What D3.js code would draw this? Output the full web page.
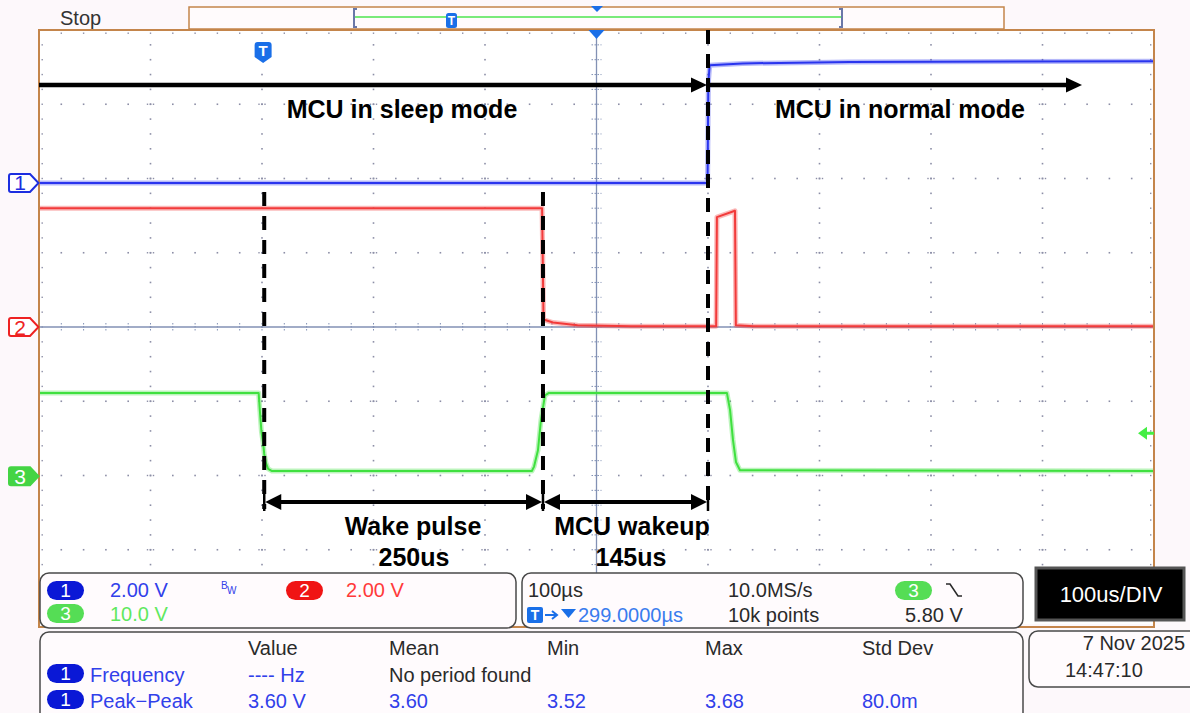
<!DOCTYPE html>
<html>
<head>
<meta charset="utf-8">
<script src="https://cdn.jsdelivr.net/npm/d3@7"></script>
<style>
html,body{margin:0;padding:0;background:#fdf8fb;}
svg{display:block;}
text{font-family:"Liberation Sans",Arial,sans-serif;}
</style>
</head>
<body>
<svg id="c" width="1190" height="713"></svg>
<script>
// ---------------- DATA ----------------
const timeDomain = [-201, 799];            // µs relative to trigger (10 div x 100 µs)
const divDomain = [-4, 4];                 // vertical divisions

// channel: vertical position (div) and scale (V/div)
const ch1Pos = 1.94, ch1Scale = 2.0;
const ch2Pos = 0.0, ch2Scale = 2.0;
const ch3Pos = -2.01, ch3Scale = 10.0;

const ch1Time = [-201, 398.6, 399.3, 400.5, 430, 526, 799];
const ch1Volt = [0.0, 0.0, 2.7, 3.17, 3.22, 3.26, 3.28];

const ch2Time = [-201, 250.2, 251.5, 260, 282, 330, 406.3, 407, 423.2, 424, 440, 799];
const ch2Volt = [3.2, 3.2, 0.2, 0.12, 0.05, 0.02, 0.02, 2.96, 3.13, 0.05, 0.02, 0.02];

const ch3Time = [-201, -4, -3, -1.5, 0, 1, 2.5, 4.5, 8, 241, 243, 246.5, 249.2, 252.8, 256, 416, 418.8, 421.4, 424.1, 427.7, 799];
const ch3Volt = [11.2, 11.2, 9, 6, 4.5, 3, 1.8, 1, 0.7, 0.7, 1.3, 3.5, 7.6, 10.9, 11.2, 11.2, 8.9, 4.9, 1.9, 0.8, 0.7];

const trigLevel = 5.80;                    // V on ch3
const markerTimes = [1, 251, 399];         // dashed cursor lines (µs)
const phaseLabels = ["MCU in sleep mode", "MCU in normal mode"];
const spanLabels = [["Wake pulse", "250us"], ["MCU wakeup", "145us"]];

const chanSettings = ["2.00 V", "2.00 V", "10.0 V"];
const timeSettings = ["100µs", "299.0000µs", "10.0MS/s", "10k points", "5.80 V"];
const measHeaders = ["Value", "Mean", "Min", "Max", "Std Dev"];
const measNames = ["Frequency", "Peak\u2212Peak"];
const measRow1 = ["---- Hz", "No period found", "", "", ""];
const measRow2 = ["3.60 V", "3.60", "3.52", "3.68", "80.0m"];
const dateLabels = ["7 Nov 2025", "14:47:10"];
const divLabel = "100us/DIV";

// ---------------- SCALES ----------------
const L = 39, R = 1154, T = 30, B = 624;
const x = d3.scaleLinear().domain(timeDomain).range([L, R]);
const xDiv = d3.scaleLinear().domain([0, 10]).range([L, R]);
const yDiv = d3.scaleLinear().domain(divDomain).range([B, T]);
const svg = d3.select("#c");

// plot area background
svg.append("rect").attr("x", L).attr("y", T).attr("width", R - L).attr("height", B - T).attr("fill", "#ffffff");

// ---------------- GRID ----------------
const g = svg.append("g");
const dotC = "#8c8ea6";
const minorX = d3.range(1, 50).map(i => i / 5);
const minorY = d3.range(-19, 20).map(i => i / 5);
[1,2,3,4,6,7,8,9].forEach(k => {
  minorY.forEach(v => {
    g.append("rect").attr("x", xDiv(k) - 0.8).attr("y", yDiv(v) - 0.8).attr("width", 1.6).attr("height", 1.6).attr("fill", dotC);
  });
  [-3,-2,-1,1,2,3].forEach(v => {
    [-3, 3].forEach(dx => g.append("rect").attr("x", xDiv(k) + dx - 0.7).attr("y", yDiv(v) - 0.7).attr("width", 1.4).attr("height", 1.4).attr("fill", dotC));
  });
});
[-3,-2,-1,1,2,3].forEach(v => {
  minorX.forEach(k => {
    g.append("rect").attr("x", xDiv(k) - 0.8).attr("y", yDiv(v) - 0.8).attr("width", 1.6).attr("height", 1.6).attr("fill", dotC);
  });
});
minorX.forEach(k => {
  g.append("rect").attr("x", xDiv(k) - 0.7).attr("y", T + 2.5).attr("width", 1.4).attr("height", 1.4).attr("fill", dotC);
});
minorY.forEach(v => {
  g.append("rect").attr("x", L + 2.5).attr("y", yDiv(v) - 0.7).attr("width", 1.4).attr("height", 1.4).attr("fill", dotC);
  g.append("rect").attr("x", R - 4).attr("y", yDiv(v) - 0.7).attr("width", 1.4).attr("height", 1.4).attr("fill", dotC);
});
const cc = "#8291b4";
g.append("line").attr("x1", xDiv(5)).attr("x2", xDiv(5)).attr("y1", T).attr("y2", B).attr("stroke", cc).attr("stroke-width", 1.3);
g.append("line").attr("x1", L).attr("x2", R).attr("y1", yDiv(0)).attr("y2", yDiv(0)).attr("stroke", cc).attr("stroke-width", 1.3);
minorX.forEach(k => {
  g.append("line").attr("x1", xDiv(k)).attr("x2", xDiv(k)).attr("y1", yDiv(0) - 4).attr("y2", yDiv(0) + 4)
    .attr("stroke", cc).attr("stroke-width", 1).attr("stroke-dasharray", "1.5,1.5");
});
minorY.forEach(v => {
  g.append("line").attr("x1", xDiv(5) - 5).attr("x2", xDiv(5) + 5).attr("y1", yDiv(v)).attr("y2", yDiv(v))
    .attr("stroke", cc).attr("stroke-width", 1).attr("stroke-dasharray", "1.5,1.5");
});

// ---------------- TRACES ----------------
function drawTrace(times, volts, pos, scale, color) {
  const pts = times.map((t, i) => [x(t), yDiv(pos + volts[i] / scale)]);
  const line = d3.line();
  svg.append("path").attr("d", line(pts)).attr("fill", "none").attr("stroke", color)
    .attr("stroke-width", 5).attr("stroke-opacity", 0.35).attr("stroke-linejoin", "round");
  svg.append("path").attr("d", line(pts)).attr("fill", "none").attr("stroke", color)
    .attr("stroke-width", 2).attr("stroke-linejoin", "round");
}
drawTrace(ch3Time, ch3Volt, ch3Pos, ch3Scale, "#3fe03f");
drawTrace(ch2Time, ch2Volt, ch2Pos, ch2Scale, "#f23a3a");
drawTrace(ch1Time, ch1Volt, ch1Pos, ch1Scale, "#2a35ee");

svg.append("rect").attr("x", L).attr("y", T).attr("width", R - L).attr("height", B - T + 3)
  .attr("fill", "none").attr("stroke", "#c4854b").attr("stroke-width", 2);

// ---------------- ANNOTATIONS ----------------
const ann = svg.append("g");
const mx = markerTimes.map(t => x(t));
[[mx[0], 192], [mx[1], 192], [mx[2], 30]].forEach(([xx, y0]) => {
  ann.append("line").attr("x1", xx).attr("x2", xx).attr("y1", y0).attr("y2", 509)
    .attr("stroke", "#000").attr("stroke-width", 4).attr("stroke-dasharray", "14,10");
});
function arrowHead(tipX, y, dir, len, hw) {
  ann.append("path").attr("d", `M${tipX},${y} L${tipX - dir * len},${y - hw} L${tipX - dir * len},${y + hw} Z`).attr("fill", "#000");
}
const yTop = 85;
ann.append("line").attr("x1", L).attr("x2", mx[2] - 12).attr("y1", yTop).attr("y2", yTop).attr("stroke", "#000").attr("stroke-width", 4.5);
arrowHead(mx[2] - 1, yTop, 1, 16, 7.5);
ann.append("line").attr("x1", mx[2]).attr("x2", 1068).attr("y1", yTop).attr("y2", yTop).attr("stroke", "#000").attr("stroke-width", 4.5);
arrowHead(1082, yTop, 1, 16, 7.5);
const yBot = 502;
[[mx[0], mx[1]], [mx[1], mx[2]]].forEach(([a, b]) => {
  ann.append("line").attr("x1", a + 10).attr("x2", b - 10).attr("y1", yBot).attr("y2", yBot).attr("stroke", "#000").attr("stroke-width", 4);
  arrowHead(a + 1, yBot, -1, 16, 8);
  arrowHead(b - 1, yBot, 1, 16, 8);
});
mx.forEach(xx => ann.append("line").attr("x1", xx).attr("x2", xx).attr("y1", 491).attr("y2", 511).attr("stroke", "#000").attr("stroke-width", 2.5));

const bold = s => s.attr("font-weight", "bold").attr("font-size", 25).attr("fill", "#000").attr("text-anchor", "middle");
bold(ann.append("text").attr("x", 402).attr("y", 118).text(phaseLabels[0]));
bold(ann.append("text").attr("x", 900).attr("y", 118).text(phaseLabels[1]));
bold(ann.append("text").attr("x", 413).attr("y", 535).text(spanLabels[0][0]));
bold(ann.append("text").attr("x", 414).attr("y", 566).text(spanLabels[0][1]));
bold(ann.append("text").attr("x", 632).attr("y", 535).text(spanLabels[1][0]));
bold(ann.append("text").attr("x", 631).attr("y", 566).text(spanLabels[1][1]));

// ---------------- MARKERS ----------------
const blueM = "#1a6fe8";
function chanMarker(pos, color, label, filled) {
  const yy = yDiv(pos);
  svg.append("path").attr("d", `M11,${yy - 9} H30 L38.5,${yy} L30,${yy + 9} H11 Q9,${yy + 9} 9,${yy + 7} V${yy - 7} Q9,${yy - 9} 11,${yy - 9} Z`)
    .attr("fill", filled ? color : "#fff").attr("stroke", color).attr("stroke-width", 2);
  svg.append("text").attr("x", 20).attr("y", yy + 7.5).attr("text-anchor", "middle").attr("font-size", 21)
    .attr("fill", filled ? "#fff" : color).text(label);
}
chanMarker(ch1Pos, "#1c2ee0", "1", false);
chanMarker(ch2Pos, "#ee2222", "2", false);
chanMarker(ch3Pos, "#44d444", "3", true);

const ty = yDiv(ch3Pos + trigLevel / ch3Scale);
svg.append("path").attr("d", `M1138,${ty} L1147,${ty - 6.5} L1147,${ty - 1.5} L1154,${ty - 1.5} L1154,${ty + 1.5} L1147,${ty + 1.5} L1147,${ty + 6.5} Z`).attr("fill", "#44ee44");

function tMarker(cx, y0, w, h, fs) {
  svg.append("path").attr("d", `M${cx - w / 2},${y0 + 3} Q${cx - w / 2},${y0} ${cx - w / 2 + 3},${y0} H${cx + w / 2 - 3} Q${cx + w / 2},${y0} ${cx + w / 2},${y0 + 3} V${y0 + h - 6} L${cx},${y0 + h} L${cx - w / 2},${y0 + h - 6} Z`).attr("fill", blueM);
  svg.append("text").attr("x", cx).attr("y", y0 + h * 0.68).attr("text-anchor", "middle").attr("font-weight", "bold")
    .attr("font-size", fs).attr("fill", "#fff").text("T");
}
tMarker(x(0), 42, 17, 21, 15);
svg.append("path").attr("d", `M${xDiv(5) - 8},${T} L${xDiv(5) + 8},${T} L${xDiv(5)},${T + 9} Z`).attr("fill", blueM);

// ---------------- RECORD BAR ----------------
svg.append("text").attr("x", 60).attr("y", 25).attr("font-size", 20).attr("fill", "#333").text("Stop");
svg.append("rect").attr("x", 189).attr("y", 7).attr("width", 815).attr("height", 22).attr("fill", "#fffbfc").attr("stroke", "#c4854b").attr("stroke-width", 1.5);
svg.append("line").attr("x1", 355).attr("x2", 841).attr("y1", 17).attr("y2", 17).attr("stroke", "#7aea7a").attr("stroke-width", 2);
svg.append("path").attr("d", "M357,9 H354 V27 H357").attr("fill", "none").attr("stroke", "#6a78a8").attr("stroke-width", 2);
svg.append("path").attr("d", "M839,9 H842 V27 H839").attr("fill", "none").attr("stroke", "#6a78a8").attr("stroke-width", 2);
svg.append("rect").attr("x", 446).attr("y", 13).attr("width", 11).attr("height", 15).attr("rx", 2.5).attr("fill", blueM);
svg.append("text").attr("x", 451.5).attr("y", 25).attr("text-anchor", "middle").attr("font-weight", "bold").attr("font-size", 12).attr("fill", "#fff").text("T");
svg.append("path").attr("d", "M591,6 L603,6 L597,12 Z").attr("fill", blueM);

// ---------------- INFO PANELS ----------------
const P = svg.append("g");
const box = (x0, y0, w, h) => P.append("rect").attr("x", x0).attr("y", y0).attr("width", w).attr("height", h).attr("rx", 9)
  .attr("fill", "#fffbfd").attr("stroke", "#4a4a4a").attr("stroke-width", 1.5);
const txt = (x0, y0, s, c, anchor) => P.append("text").attr("x", x0).attr("y", y0).attr("font-size", 20).attr("fill", c)
  .attr("text-anchor", anchor || "start").text(s);
function badge(x0, y0, color, label) {
  P.append("rect").attr("x", x0).attr("y", y0).attr("width", 37).attr("height", 19).attr("rx", 9.5).attr("fill", color);
  P.append("text").attr("x", x0 + 18.5).attr("y", y0 + 16).attr("text-anchor", "middle").attr("font-size", 19).attr("fill", "#fff").text(label);
}
const blueT = "#3140ea", redT = "#ff3a3a", greenT = "#5fe85f", darkT = "#2a2a2a";

box(40, 573, 476, 55);
badge(47, 581, "#0a18d6", "1");
txt(110, 597, chanSettings[0], blueT);
P.append("text").attr("x", 221).attr("y", 589).attr("font-size", 10).attr("fill", blueT).text("B");
P.append("text").attr("x", 227).attr("y", 594).attr("font-size", 10).attr("fill", blueT).text("W");
badge(286, 581, "#f01414", "2");
txt(346, 597, chanSettings[1], redT);
badge(47, 604, "#55dd55", "3");
txt(110, 621, chanSettings[2], greenT);

box(522, 573, 501, 55);
txt(528, 597, timeSettings[0], darkT);
P.append("rect").attr("x", 527).attr("y", 607).attr("width", 16).attr("height", 16).attr("rx", 2).attr("fill", blueM);
P.append("text").attr("x", 535).attr("y", 620).attr("text-anchor", "middle").attr("font-weight", "bold").attr("font-size", 14).attr("fill", "#fff").text("T");
P.append("path").attr("d", "M545,615 H556 M552,611 L557,615 L552,619").attr("fill", "none").attr("stroke", blueM).attr("stroke-width", 2);
P.append("path").attr("d", "M561,609 L576,609 L568.5,618 Z").attr("fill", blueM);
txt(578, 622, timeSettings[1], "#3a7cee");
txt(728, 597, timeSettings[2], darkT);
txt(728, 622, timeSettings[3], darkT);
badge(895, 581, "#55dd55", "3");
P.append("path").attr("d", "M946,584 H950 L958,596 H962").attr("fill", "none").attr("stroke", darkT).attr("stroke-width", 1.6);
txt(905, 622, timeSettings[4], darkT);

P.append("rect").attr("x", 1036).attr("y", 568).attr("width", 148).attr("height", 52).attr("fill", "#000").attr("stroke", "#555").attr("stroke-width", 3);
P.append("text").attr("x", 1111).attr("y", 602).attr("text-anchor", "middle").attr("font-size", 22).attr("fill", "#fff").text(divLabel);

box(40, 632, 983, 95);
const colX = [248, 389, 547, 705, 862];
measHeaders.forEach((h, i) => txt(colX[i], 655, h, darkT));
badge(47, 664, "#0a18d6", "1");
txt(90, 682, measNames[0], blueT);
measRow1.forEach((v, i) => { if (v) txt(colX[i], 682, v, i === 0 ? blueT : darkT); });
badge(47, 690, "#0a18d6", "1");
txt(90, 708, measNames[1], blueT);
measRow2.forEach((v, i) => txt(colX[i], 708, v, blueT));

box(1029, 631, 175, 56);
txt(1185, 650, dateLabels[0], darkT, "end");
txt(1065, 677, dateLabels[1], darkT);
</script>
</body>
</html>
